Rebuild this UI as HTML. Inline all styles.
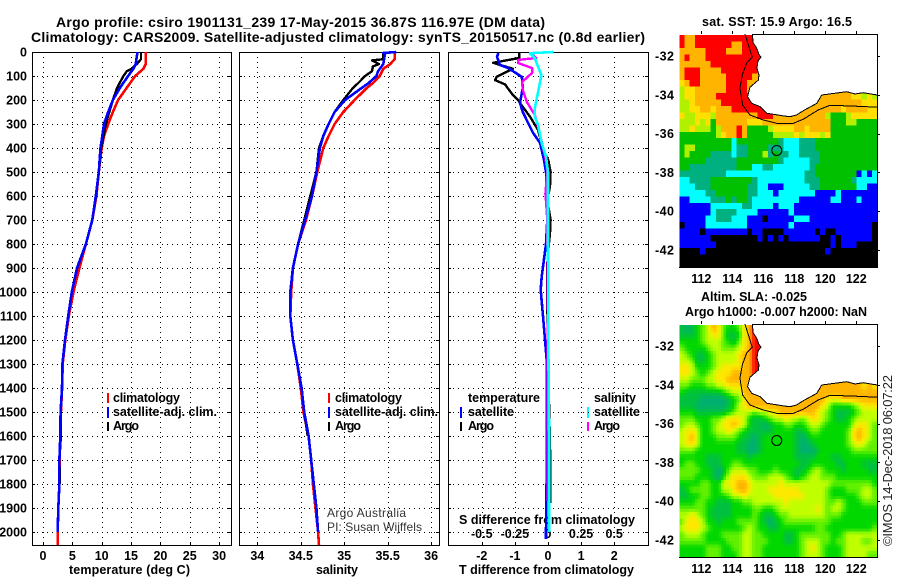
<!DOCTYPE html>
<html lang="en">
<head>
<meta charset="utf-8">
<title>Argo profile csiro 1901131_239</title>
<style>
html,body{margin:0;padding:0;background:#fff;}
svg{display:block;}
text{font-family:"Liberation Sans",sans-serif;fill:#000;}
.b{font-weight:bold;font-size:12.5px;}
.t{font-weight:bold;font-size:14px;}
.thin{font-size:12px;fill:#333;}
</style>
</head>
<body>
<svg id="chart" xmlns="http://www.w3.org/2000/svg" width="900" height="580" viewBox="0 0 900 580">
<text class="t" x="56" y="27" textLength="489" lengthAdjust="spacing">Argo profile: csiro 1901131_239 17-May-2015 36.87S 116.97E (DM data)</text>
<text class="t" x="31" y="42" textLength="614" lengthAdjust="spacing">Climatology: CARS2009. Satellite-adjusted climatology: synTS_20150517.nc (0.8d earlier)</text>
<text class="t" x="702" y="26" textLength="150" lengthAdjust="spacing" style="font-size:12.5px">sat. SST: 15.9 Argo: 16.5</text>
<text class="t" x="701" y="301" textLength="106" lengthAdjust="spacing" style="font-size:12.5px">Altim. SLA: -0.025</text>
<text class="t" x="685" y="316" textLength="182" lengthAdjust="spacing" style="font-size:12.5px">Argo h1000: -0.007 h2000: NaN</text>
<text class="b" x="69" y="574" textLength="121" lengthAdjust="spacing">temperature (deg C)</text>
<text class="b" x="316" y="574" textLength="42" lengthAdjust="spacing">salinity</text>
<text class="b" x="459" y="574" textLength="175" lengthAdjust="spacing">T difference from climatology</text>
<text class="b" x="459" y="524" textLength="176" lengthAdjust="spacing">S difference from climatology</text>
<text class="thin" x="327" y="517" textLength="79" lengthAdjust="spacing">Argo Australia</text>
<text class="thin" x="327" y="531" textLength="95" lengthAdjust="spacing">PI: Susan Wijffels</text>
<text transform="translate(892,546) rotate(-90)" textLength="171" lengthAdjust="spacing" style="font-size:13px;fill:#222">©IMOS 14-Dec-2018 06:07:22</text>
<g>
<text class="b" x="113" y="402" textLength="67" lengthAdjust="spacing">climatology</text>
<text class="b" x="113" y="416" textLength="104" lengthAdjust="spacing">satellite-adj. clim.</text>
<text class="b" x="113" y="430" textLength="26" lengthAdjust="spacing">Argo</text>
<rect x="107" y="393" width="2" height="10" fill="#f00"/>
<rect x="107" y="407" width="2" height="11" fill="#00f"/>
<rect x="107" y="422" width="2" height="9" fill="#000"/>
</g>
<g>
<text class="b" x="335" y="402" textLength="67" lengthAdjust="spacing">climatology</text>
<text class="b" x="335" y="416" textLength="103" lengthAdjust="spacing">satellite-adj. clim.</text>
<text class="b" x="335" y="430" textLength="26" lengthAdjust="spacing">Argo</text>
<rect x="328" y="393" width="2" height="10" fill="#f00"/>
<rect x="328" y="407" width="2" height="11" fill="#00f"/>
<rect x="328" y="422" width="2" height="9" fill="#000"/>
</g>
<g>
<text class="b" x="468" y="402" textLength="72" lengthAdjust="spacing">temperature</text>
<text class="b" x="468" y="416" textLength="46" lengthAdjust="spacing">satellite</text>
<text class="b" x="468" y="430" textLength="26" lengthAdjust="spacing">Argo</text>
<text class="b" x="594" y="402" textLength="42" lengthAdjust="spacing">salinity</text>
<text class="b" x="594" y="416" textLength="46" lengthAdjust="spacing">satellite</text>
<text class="b" x="594" y="430" textLength="26" lengthAdjust="spacing">Argo</text>
<rect x="460" y="407" width="2" height="11" fill="#00f"/>
<rect x="460" y="422" width="2" height="9" fill="#000"/>
<rect x="587" y="407" width="2" height="11" fill="#0ff"/>
<rect x="587" y="422" width="2" height="9" fill="#f0f"/>
</g>
</svg>
<script>
// ---- profile data ----
const depthTicks = [0,100,200,300,400,500,600,700,800,900,1000,1100,1200,1300,1400,1500,1600,1700,1800,1900,2000];
const tempTicks = [0,5,10,15,20,25,30];
const salTicks = [34,34.5,35,35.5,36];
const tDiffTicks = [-2,-1,0,1,2];
const sDiffTicks = [-0.5,-0.25,0,0.25,0.5];
const lonTicks = [112,114,116,118,120,122];
const latTicks = [-32,-34,-36,-38,-40,-42];

const tempClimDepth = [0,50,70,100,150,200,250,300,350,400,500,600,700,800,900,1000,1100,1200,1300,1400,1500,1600,1700,1800,1900,2000,2055];
const tempClim = [17.5,17.5,17.1,15.7,14.25,12.8,11.9,11.1,10.4,10.0,9.5,9.1,8.4,7.3,6.2,5.2,4.4,3.8,3.35,3.25,3.05,2.95,2.85,2.8,2.6,2.5,2.5];
const tempSatDepth = [0,50,70,100,150,200,250,300,350,400,500,600,700,800,900,1000,1100,1200,1300,1400,1500,1600,1700,1800,1900,2000];
const tempSat = [16.1,15.8,15.4,14.5,13.1,11.9,11.1,10.4,10.1,9.8,9.5,9.0,8.4,7.3,5.8,4.9,4.3,3.75,3.3,3.24,3.0,2.95,2.8,2.8,2.6,2.5];
const tempArgoDepth = [0,30,50,70,80,100,150,200,250,300,350,400,500,600,700,800,900,1000,1100,1200,1300,1400,1500,1600,1700,1800];
const tempArgo = [16.7,16.7,16.0,15.1,14.3,13.7,12.6,11.9,11.3,10.7,10.3,9.9,9.5,9.05,8.4,7.3,5.85,4.9,4.3,3.75,3.3,3.24,3.0,3.05,2.8,2.9];

const salClimDepth = [0,30,50,70,100,130,150,200,250,300,350,400,500,600,700,800,900,1000,1100,1200,1300,1400,1500,1600,1700,1800,1900,2000,2055];
const salClim = [35.58,35.58,35.53,35.45,35.41,35.33,35.26,35.12,34.99,34.89,34.82,34.76,34.69,34.63,34.56,34.47,34.41,34.39,34.38,34.41,34.46,34.5,34.53,34.59,34.62,34.64,34.67,34.7,34.71];
const salSatDepth = [0,4,8,50,80,100,130,150,200,250,300,350,400,500,600,700,800,900,1000,1100,1200,1300,1400,1500,1600,1700,1800,1900,2000];
const salSat = [35.6,35.45,35.47,35.45,35.39,35.37,35.28,35.2,35.01,34.89,34.82,34.76,34.72,34.68,34.63,34.55,34.47,34.41,34.38,34.38,34.41,34.46,34.51,34.54,34.59,34.62,34.65,34.68,34.7];
const salArgoDepth = [0,30,35,50,60,80,100,130,150,200,250,300,350,400,500,600,700,800,900,1000,1100,1200,1300,1400,1500,1600];
const salArgo = [35.45,35.45,35.32,35.4,35.33,35.32,35.24,35.16,35.1,34.99,34.89,34.82,34.76,34.71,34.68,34.61,34.54,34.47,34.41,34.38,34.38,34.41,34.46,34.51,34.54,34.58];

const dTArgoDepth = [0,25,45,70,103,117,135,179,200,212,270,325,387,400,450,500,560,617,700,755,825,900,1000,1200,1400,1700,1880];
const dTArgo = [-0.87,-0.87,-1.66,-1.06,-1.55,-1.6,-1.3,-1.06,-0.9,-0.85,-0.54,-0.3,-0.18,-0.19,0.01,0.08,0.06,-0.02,0.08,0.06,0.01,-0.03,-0.03,0,0.02,0.07,0.07];
const dTSatDepth = [4,20,54,67,104,150,212,250,296,337,379,450,500,560,600,700,800,936,992,1100,1200,1300,1400,1500,1640,2000,2030];
const dTSat = [-1.5,-1.54,-1.45,-1.2,-0.79,-0.76,-0.85,-0.76,-0.6,-0.45,-0.24,-0.12,-0.06,-0.04,-0.01,-0.02,-0.06,-0.19,-0.22,-0.15,-0.09,-0.03,-0.03,-0.03,-0.03,-0.06,-0.06];
const dSArgoDepth = [12,25,33,46,67,87,125,158,208,262,346,379,440,500,590,620,700,900,1100,1400,1870];
const dSArgo = [-0.113,-0.09,-0.226,-0.226,-0.12,-0.12,-0.196,-0.19,-0.16,-0.1,-0.06,-0.045,-0.02,-0.005,-0.02,-0.015,-0.005,-0.003,0,-0.003,-0.003];
const dSSatDepth = [0,5,25,54,96,167,233,270,304,375,436,500,800,1200,1600,2000];
const dSSat = [0.04,-0.136,-0.1,-0.08,-0.05,-0.075,-0.1,-0.1,-0.075,-0.05,-0.015,0,0,0.002,0.008,0.008];

// ---- map data: rows run north to south, columns west to east; 0 = land ----
const sstGrid = [
[9,8,8,9,9,9,9,9,9,9,9,9,9,9,0,0,0,0,0,0,0,0,0,0,0,0,0,0,0,0,0,0,0,0,0,0,0,0],
[9,8,8,9,9,9,9,9,9,9,8,8,9,9,9,0,0,0,0,0,0,0,0,0,0,0,0,0,0,0,0,0,0,0,0,0,0,0],
[8,8,8,8,8,9,9,9,9,8,8,8,9,9,9,9,0,0,0,0,0,0,0,0,0,0,0,0,0,0,0,0,0,0,0,0,0,0],
[8,9,8,8,8,9,9,9,9,9,9,9,9,9,9,9,0,0,0,0,0,0,0,0,0,0,0,0,0,0,0,0,0,0,0,0,0,0],
[8,8,8,8,8,8,9,9,9,9,9,9,9,9,9,9,0,0,0,0,0,0,0,0,0,0,0,0,0,0,0,0,0,0,0,0,0,0],
[8,9,9,9,8,8,8,8,9,9,9,9,9,9,9,8,0,0,0,0,0,0,0,0,0,0,0,0,0,0,0,0,0,0,0,0,0,0],
[8,9,9,9,8,8,8,8,8,9,9,9,9,9,8,8,0,0,0,0,0,0,0,0,0,0,0,0,0,0,0,0,0,0,0,0,0,0],
[7,8,9,9,8,8,8,8,8,9,9,9,9,8,8,0,0,0,0,0,0,0,0,0,0,0,0,0,0,0,0,0,0,0,0,0,0,0],
[6,7,7,8,8,8,8,8,8,9,9,9,9,8,0,0,0,0,0,0,0,0,0,0,0,0,0,0,0,0,0,0,0,0,0,0,0,0],
[6,7,7,8,8,8,8,9,9,9,9,9,9,0,0,0,0,0,0,0,0,0,0,0,0,0,0,8,8,8,8,8,8,7,7,6,7,6],
[6,6,7,8,8,8,8,8,9,9,9,9,9,9,9,0,0,0,0,0,0,0,0,0,0,0,8,8,8,8,8,8,8,8,8,7,7,7],
[6,6,7,7,8,8,7,8,8,8,9,9,9,9,9,9,9,0,0,0,0,0,0,0,0,8,8,8,8,8,8,7,8,8,8,8,7,7],
[7,6,6,7,7,7,6,8,8,8,8,8,8,8,8,9,9,9,8,8,8,0,0,8,8,8,8,8,6,5,5,5,6,7,7,7,7,7],
[6,6,6,7,6,7,5,8,8,8,8,8,8,7,7,7,8,8,8,8,8,8,8,8,8,8,8,8,8,5,5,5,6,6,5,5,5,5],
[6,6,7,6,6,6,5,6,8,8,8,9,8,5,5,5,5,6,7,7,7,7,8,8,7,8,8,8,8,5,5,5,5,5,5,5,5,5],
[5,5,5,5,5,5,5,6,7,8,8,9,8,5,5,5,5,5,6,6,6,6,7,6,7,7,7,6,7,5,5,5,5,5,5,5,5,5],
[5,5,5,5,5,5,5,5,5,5,3,5,5,5,5,5,5,5,5,4,3,3,3,4,4,4,5,5,5,5,5,5,5,5,5,5,5,5],
[5,6,6,5,5,5,5,5,5,5,3,4,4,5,5,5,5,4,4,4,3,3,3,4,4,4,5,5,5,5,5,5,5,5,5,5,5,5],
[5,6,5,5,5,5,4,4,4,4,3,4,4,5,5,5,6,4,5,4,4,3,3,4,4,4,4,5,5,5,5,5,5,5,5,5,5,5],
[5,5,5,5,5,4,4,4,4,4,4,5,5,5,5,5,5,5,5,4,3,3,3,3,3,4,4,5,5,5,5,5,5,5,5,5,5,5],
[5,5,4,4,4,4,4,4,4,4,4,5,5,5,3,3,4,4,3,3,3,3,3,3,3,4,5,5,5,5,5,5,5,5,5,5,5,5],
[4,4,4,4,4,4,4,4,4,3,3,3,3,3,3,3,3,3,3,3,3,3,3,3,4,4,5,5,5,5,5,5,5,5,2,3,2,3],
[3,3,4,4,4,4,5,5,5,5,5,5,5,5,4,3,3,3,3,3,3,3,3,3,4,4,4,5,5,5,5,5,5,4,3,3,3,3],
[3,3,3,4,4,4,5,5,5,5,5,5,5,4,4,3,3,2,2,2,3,3,3,3,3,4,4,5,5,5,5,5,5,5,3,3,2,2],
[3,3,3,3,3,4,4,5,5,5,5,5,5,4,4,3,3,3,2,3,3,3,3,3,3,3,2,2,2,2,3,2,2,2,2,2,2,2],
[2,2,3,3,3,3,4,4,4,5,4,5,5,4,3,3,3,3,3,3,3,3,3,2,2,2,2,2,2,3,3,2,2,2,3,2,2,2],
[2,2,2,2,2,2,3,3,3,3,3,3,4,4,3,3,3,3,2,3,3,3,2,2,2,2,2,2,2,2,2,2,2,2,2,2,2,2],
[2,2,2,2,2,2,3,4,4,4,4,3,3,3,3,2,2,2,2,2,2,3,2,2,2,2,2,2,2,2,2,2,2,2,2,2,2,2],
[2,2,2,2,2,3,3,4,4,4,3,3,3,2,2,2,1,2,2,2,2,2,3,3,3,2,2,2,2,2,2,2,2,2,2,2,2,2],
[1,2,2,2,2,3,3,3,3,3,3,3,3,2,2,2,2,2,2,2,2,3,2,2,2,2,2,2,2,2,2,2,2,2,2,2,2,1],
[2,2,2,2,1,2,2,2,2,2,2,2,2,1,2,2,1,1,1,1,2,2,2,2,2,2,1,2,1,1,2,2,2,2,2,2,2,1],
[2,2,2,2,2,2,1,1,1,1,1,1,1,1,1,2,1,2,1,2,1,2,2,2,2,2,2,1,1,2,1,2,2,2,2,2,2,1],
[2,2,2,2,2,2,2,1,1,1,1,1,1,1,1,1,1,1,1,1,1,1,1,1,1,1,1,1,1,2,1,2,2,2,1,1,1,1],
[1,1,1,1,2,1,1,1,1,1,1,1,1,1,1,1,1,1,1,1,1,1,1,1,1,1,1,1,2,1,1,1,1,1,1,1,1,1],
[1,1,1,1,1,1,1,1,1,1,1,1,1,1,1,1,1,1,1,1,1,1,1,1,1,1,1,1,1,1,1,1,1,1,1,1,1,1],
[1,1,1,1,1,1,1,1,1,1,1,1,1,1,1,1,1,1,1,1,1,1,1,1,1,1,1,1,1,1,1,1,1,1,1,1,1,1]
];
const slaGrid = [
[2,1,2,3,4,5,7,6,4,3,3,4,6,7,8,0,0,0,0,0,0,0,0,0,0,0,0,0,0,0,0,0,0,0,0,0,0,0],
[2,2,2,3,4,5,6,6,4,2,2,3,6,7,8,0,0,0,0,0,0,0,0,0,0,0,0,0,0,0,0,0,0,0,0,0,0,0],
[3,3,3,3,4,5,5,5,4,3,2,4,6,7,8,8,0,0,0,0,0,0,0,0,0,0,0,0,0,0,0,0,0,0,0,0,0,0],
[4,3,3,3,3,4,5,5,4,4,4,5,6,7,8,8,0,0,0,0,0,0,0,0,0,0,0,0,0,0,0,0,0,0,0,0,0,0],
[5,4,3,2,2,3,4,5,5,5,5,6,7,7,8,8,0,0,0,0,0,0,0,0,0,0,0,0,0,0,0,0,0,0,0,0,0,0],
[5,5,4,2,2,3,4,5,5,5,5,6,7,7,8,8,0,0,0,0,0,0,0,0,0,0,0,0,0,0,0,0,0,0,0,0,0,0],
[6,6,5,3,3,3,4,5,6,6,6,6,7,7,8,8,0,0,0,0,0,0,0,0,0,0,0,0,0,0,0,0,0,0,0,0,0,0],
[6,6,5,4,3,4,5,6,6,6,7,7,7,7,8,0,0,0,0,0,0,0,0,0,0,0,0,0,0,0,0,0,0,0,0,0,0,0],
[5,5,4,4,4,5,5,6,6,7,7,7,7,7,0,0,0,0,0,0,0,0,0,0,0,0,0,0,0,0,0,0,0,0,0,0,0,0],
[4,4,3,3,3,4,4,5,5,6,6,6,7,0,0,0,0,0,0,0,0,0,0,0,0,0,0,7,7,7,7,7,7,7,7,6,7,6],
[3,2,2,2,2,2,2,2,3,4,5,5,7,7,7,0,0,0,0,0,0,0,0,0,0,0,7,7,7,7,7,7,7,7,7,7,7,7],
[2,2,2,2,1,1,1,1,1,2,3,4,6,7,7,7,7,0,0,0,0,0,0,0,0,7,7,7,6,6,6,7,7,7,7,7,7,7],
[2,2,2,1,1,1,1,1,1,2,3,5,6,7,7,7,7,7,7,7,7,0,0,7,7,7,7,6,5,3,3,3,3,4,5,6,6,6],
[3,3,3,2,2,2,2,2,2,3,4,5,5,5,4,5,5,6,6,7,7,7,7,7,7,7,6,5,4,3,2,2,2,3,4,5,5,5],
[4,4,4,3,3,3,4,4,5,6,6,6,5,3,2,2,3,4,5,5,6,5,5,4,5,6,6,5,4,3,2,2,3,4,5,5,5,5],
[4,5,5,4,3,3,4,5,6,6,7,6,5,3,2,2,1,2,3,3,4,4,3,3,4,5,5,4,3,3,3,3,3,5,6,6,5,4],
[5,6,6,5,3,3,4,5,5,6,5,4,3,2,2,2,2,2,3,3,3,3,2,2,3,4,4,3,3,3,3,3,4,6,7,6,5,4],
[5,6,7,5,3,3,3,4,4,4,4,3,2,2,1,2,3,3,3,3,3,3,2,1,2,3,3,3,3,3,3,3,4,6,7,6,5,4],
[5,6,6,5,3,3,3,3,3,3,3,2,2,1,1,2,3,3,3,3,3,3,2,1,1,2,3,3,3,3,3,3,4,5,6,5,4,4],
[4,4,4,3,3,3,3,3,3,3,3,2,2,1,1,2,3,3,3,3,3,3,2,1,1,1,2,3,3,3,3,3,3,4,4,4,4,4],
[3,3,3,3,3,2,2,2,3,3,3,3,3,2,3,3,3,3,3,3,3,3,2,2,2,2,3,3,3,2,2,3,3,3,3,3,3,3],
[3,4,4,3,3,2,2,2,3,3,4,4,3,3,3,3,3,3,3,3,3,3,3,2,2,3,3,3,3,3,2,2,3,3,3,2,2,2],
[4,4,4,4,3,3,2,1,2,4,5,5,5,4,4,3,3,3,4,3,3,3,2,2,3,4,5,4,3,3,3,2,3,3,3,3,2,2],
[4,4,4,3,3,3,2,1,3,5,6,6,6,5,4,4,4,5,5,5,4,3,2,3,4,5,5,4,4,4,3,3,3,3,3,3,3,3],
[3,3,3,3,4,4,3,3,5,6,6,7,7,6,5,5,5,5,5,6,5,5,5,5,5,5,5,5,5,4,4,4,4,4,4,4,4,3],
[2,3,4,4,4,4,3,3,5,5,6,7,7,6,5,5,5,6,6,6,6,6,6,5,5,5,5,5,4,3,3,3,4,4,4,5,5,4],
[2,2,3,3,4,4,3,3,3,4,5,5,6,5,5,5,5,5,6,6,6,6,6,6,5,5,5,5,4,3,3,3,3,3,4,5,5,4],
[3,3,3,4,4,3,3,2,2,2,3,3,4,4,5,5,5,5,5,5,6,5,5,5,5,5,5,5,4,4,5,4,3,3,3,4,4,4],
[4,4,4,4,4,3,2,2,2,2,3,3,3,3,4,4,3,3,4,5,5,5,5,5,5,5,6,5,4,5,5,4,3,3,3,3,3,3],
[5,5,6,5,4,3,2,2,2,2,3,3,3,3,4,3,2,2,3,4,4,5,5,5,5,5,5,5,4,4,4,3,3,3,3,3,3,3],
[4,6,6,6,5,3,3,2,3,3,3,4,4,4,4,3,2,1,2,3,4,4,4,4,4,4,4,4,4,3,3,3,3,3,3,3,3,3],
[5,6,6,6,5,4,3,3,3,3,3,3,4,5,4,3,3,2,2,3,3,3,3,3,3,3,4,4,3,3,3,3,3,3,3,3,3,4],
[4,5,5,5,4,3,3,3,4,4,4,4,5,5,4,4,3,3,3,3,2,2,3,4,4,4,4,4,4,3,3,4,5,5,5,5,5,5],
[4,4,4,4,4,3,3,3,3,4,4,4,5,5,4,4,4,3,3,3,2,2,3,4,5,5,5,4,4,3,4,4,5,5,5,4,4,5],
[3,3,3,3,3,4,4,4,3,3,4,4,5,5,4,4,3,3,3,3,3,3,3,4,5,6,5,4,3,3,3,4,5,5,5,5,5,5],
[3,3,3,3,3,4,4,4,3,3,3,4,5,5,4,4,3,3,3,3,3,3,3,4,5,5,5,4,3,3,3,4,5,5,5,5,4,4]
];
const isobathLon = [114.82,115.03,115.29,114.93,114.65,114.50,114.54,114.67,115.14,116.0,116.86,117.94,118.58,119.55,120.30,121.81,123.34];
const isobathLat = [-30.87,-31.42,-32.07,-32.36,-32.96,-33.65,-33.92,-34.53,-35.04,-35.30,-35.47,-35.47,-35.26,-34.78,-34.54,-34.58,-34.64];
const coastLon = [115.29,115.35,115.57,115.72,115.85,115.66,115.59,115.72,115.68,115.14,114.99,115.25,115.79,116.22,117.29,117.72,118.15,118.58,119.45,119.77,121.38,121.92,122.45,123.35];
const coastLat = [-30.87,-31.33,-31.59,-31.93,-32.05,-32.26,-32.62,-32.98,-33.24,-33.61,-34.10,-34.44,-34.61,-34.95,-35.09,-35.13,-35.04,-34.82,-34.44,-34.01,-33.84,-33.96,-33.89,-34.01];
const argoLon = 116.87;
const argoLat = -36.87;

const NS = 'http://www.w3.org/2000/svg';
const svg = document.getElementById('chart');
function mk(tag, attrs, parent) {
  const el = document.createElementNS(NS, tag);
  for (const k in attrs) el.setAttribute(k, attrs[k]);
  (parent || svg).appendChild(el);
  return el;
}
const yD = d => 52 + 0.24 * d;

function drawPanel(name, left, right, xTicksVals, xFn, labels, withDepthLabels) {
  const g = mk('g', {});
  
  
  const grid = 'stroke:#000;stroke-width:1;stroke-dasharray:1 4;shape-rendering:crispEdges';
  depthTicks.forEach(d => {
    const y = Math.round(yD(d)) + 0.5;
    const gl = mk('line', {x1:left, x2:right, y1:y, y2:y, style:grid}, g);
    
    
    const t1 = mk('line', {x1:left, x2:left+3, y1:y, y2:y, stroke:'#000', 'shape-rendering':'crispEdges'}, g);
    
    
    const t2 = mk('line', {x1:right-3, x2:right, y1:y, y2:y, stroke:'#000', 'shape-rendering':'crispEdges'}, g);
    
    
    if (withDepthLabels) {
      const tx = mk('text', {x:27, y:yD(d)+4.5, 'text-anchor':'end', class:'b'}, g);
      
      
      tx.textContent = d;
    }
  });
  xTicksVals.forEach((v, i) => {
    const x = Math.round(xFn(v)) + 0.5;
    const gl = mk('line', {x1:x, x2:x, y1:52, y2:545, style:grid}, g);
    
    
    const t = mk('line', {x1:x, x2:x, y1:542, y2:545, stroke:'#000', 'shape-rendering':'crispEdges'}, g);
    
    
    const tx = mk('text', {x:xFn(v), y:560, 'text-anchor':'middle', class:'b'}, g);
    
    
    tx.textContent = labels ? labels[i] : v;
  });
  const fr = mk('rect', {x:left+0.5, y:52.5, width:right-left, height:493, fill:'none', stroke:'#000', 'shape-rendering':'crispEdges'}, g);
  
  
  return g;
}
function drawLine(parent, name, color, w, xs, depths, xFn) {
  const pts = xs.map((v, i) => xFn(v).toFixed(1) + ',' + yD(depths[i]).toFixed(1)).join(' ');
  const l = mk('polyline', {points:pts, fill:'none', stroke:color, 'stroke-width':w, 'stroke-linejoin':'round', 'shape-rendering':'crispEdges'}, parent);
  
  
}

// Temperature panel
const xTemp = v => 43 + 5.87 * v;
const gTemp = drawPanel('temperature-panel', 32, 231, tempTicks, xTemp, null, true);
drawLine(gTemp, 'temperature-climatology-line', '#f00', 2.6, tempClim, tempClimDepth, xTemp);
drawLine(gTemp, 'temperature-argo-line', '#000', 2.4, tempArgo, tempArgoDepth, xTemp);
drawLine(gTemp, 'temperature-satellite-line', '#00f', 2.6, tempSat, tempSatDepth, xTemp);

// Salinity panel
const xSal = v => 257.3 + 86.9 * (v - 34);
const gSal = drawPanel('salinity-panel', 239, 439, salTicks, xSal, null, false);
drawLine(gSal, 'salinity-climatology-line', '#f00', 2.6, salClim, salClimDepth, xSal);
drawLine(gSal, 'salinity-argo-line', '#000', 2.4, salArgo, salArgoDepth, xSal);
drawLine(gSal, 'salinity-satellite-line', '#00f', 2.6, salSat, salSatDepth, xSal);

// Difference panel
const xDT = v => 548 + 33.1 * v;
const xDS = v => 548 + 132.4 * v;
const gDiff = drawPanel('difference-panel', 448, 648, tDiffTicks, xDT, null, false);
sDiffTicks.forEach(v => {
  const tx = mk('text', {x:xDS(v), y:538, 'text-anchor':'middle', class:'b'}, gDiff);
  
  
  tx.textContent = String(v);
});
drawLine(gDiff, 't-difference-argo-line', '#000', 2.4, dTArgo, dTArgoDepth, xDT);
drawLine(gDiff, 't-difference-satellite-line', '#00f', 2.6, dTSat, dTSatDepth, xDT);
drawLine(gDiff, 's-difference-argo-line', '#f0f', 2.4, dSArgo, dSArgoDepth, xDS);
drawLine(gDiff, 's-difference-satellite-line', '#0ff', 2.6, dSSat, dSSatDepth, xDS);

// Maps
const lonX = lon => 701.3 + 15.5 * (lon - 112);
const sstColors = ['#fff','#000','#00f','#0ff','#00b080','#00c000','#b0f000','#ffe000','#ffb400','#f00'];
const slaStops = [[0,176,112],[0,176,112],[0,192,64],[0,216,0],[96,240,0],[192,255,0],[255,232,0],[255,180,0],[255,0,0]];
function slaColor(v) {
  const a = Math.max(1, Math.min(8, v));
  const i = Math.min(7, Math.floor(a));
  const f = a - i;
  const c = [0,1,2].map(k => Math.round(slaStops[i][k] * (1 - f) + slaStops[i + 1][k] * f));
  return 'rgb(' + c.join(',') + ')';
}
// Land cells borrow the nearest ocean value; the land polygon then masks them,
// so the shoreline is set by the coast arrays rather than the grid staircase.
function oceanValue(grid, r, c) {
  if (grid[r][c]) return grid[r][c];
  for (let d = 1; d < 38; d++) {
    if (c - d >= 0 && grid[r][c - d]) return grid[r][c - d];
    if (r + d < 36 && grid[r + d][c]) return grid[r + d][c];
  }
  return 1;
}
function drawMap(name, top, grid, smooth) {
  const latY = lat => top + 21 + 19.4 * (-32 - lat);
  const left = 679.3, cw = 198 / 38, ch = 232.3 / 36;
  const g = mk('g', {'shape-rendering':'crispEdges'});
  
  
  const val = (r, c) => oceanValue(grid, Math.max(0, Math.min(35, r)), Math.max(0, Math.min(37, c)));
  if (!smooth) {
    grid.forEach((row, r) => row.forEach((_, c) => {
      const cell = mk('rect', {x:left + c * cw, y:top + r * ch, width:cw + 0.5, height:ch + 0.5, fill:sstColors[val(r, c)]}, g);
      
      
    }));
  } else {
    for (let r2 = 0; r2 < 72; r2++) for (let c2 = 0; c2 < 76; c2++) {
      const r = r2 >> 1, c = c2 >> 1;
      const rr = r + (r2 % 2 ? 1 : -1), cc = c + (c2 % 2 ? 1 : -1);
      const m = 0.5625 * val(r, c) + 0.1875 * val(rr, c) + 0.1875 * val(r, cc) + 0.0625 * val(rr, cc);
      const cell = mk('rect', {x:left + c2 * cw / 2, y:top + r2 * ch / 2, width:cw / 2 + 0.5, height:ch / 2 + 0.5, fill:slaColor(m)}, g);
      
      
    }
  }
  const toPts = (lons, lats) => lons.map((v, i) => lonX(v).toFixed(1) + ',' + latY(lats[i]).toFixed(1)).join(' ');
  const landPts = toPts(coastLon, coastLat) + ' 878,' + (top + 233) + ' 878,' + (top - 1);
  const cornerPts = toPts(coastLon, coastLat) + ' 878,' + latY(coastLat[coastLat.length - 1]).toFixed(1) + ' 878,' + (top - 1);
  const land = mk('polygon', {points:cornerPts, fill:'#fff', stroke:'none'}, g);
  
  
  const coast = mk('polyline', {points:toPts(coastLon, coastLat), fill:'none', stroke:'#000', 'stroke-width':1}, g);
  
  
  const iso = mk('polyline', {points:toPts(isobathLon, isobathLat), fill:'none', stroke:'#000', 'stroke-width':1}, g);
  
  
  const dot = mk('circle', {cx:lonX(argoLon), cy:latY(argoLat), r:5, fill:'none', stroke:'#000', 'stroke-width':1, 'shape-rendering':'auto'}, g);
  
  
  const fr = mk('path', {d:`M${lonX(coastLon[0]).toFixed(1)} ${top - 0.5}H877.5V${top + 232.5}H679`, fill:'none', stroke:'#000'}, g);
  
  
  lonTicks.forEach(v => {
    const x = Math.round(lonX(v)) + 0.5;
    const t = mk('line', {x1:x, x2:x, y1:top - 4, y2:top - 1, stroke:'#000'}, g);
    
    
    const tx = mk('text', {x:lonX(v), y:top + 248, 'text-anchor':'middle', class:'b'}, g);
    
    
    tx.textContent = v;
  });
  latTicks.forEach(v => {
    const y = Math.round(latY(v)) + 0.5;
    const t = mk('line', {x1:877, x2:880, y1:y, y2:y, stroke:'#000'}, g);
    
    
    const tx = mk('text', {x:655, y:latY(v) + 4.5, textLength:19, lengthAdjust:'spacing', class:'b'}, g);
    
    
    tx.textContent = v;
  });
}
drawMap('sst-map', 35, sstGrid, false);
drawMap('sla-map', 325, slaGrid, true);
</script>
</body>
</html>
